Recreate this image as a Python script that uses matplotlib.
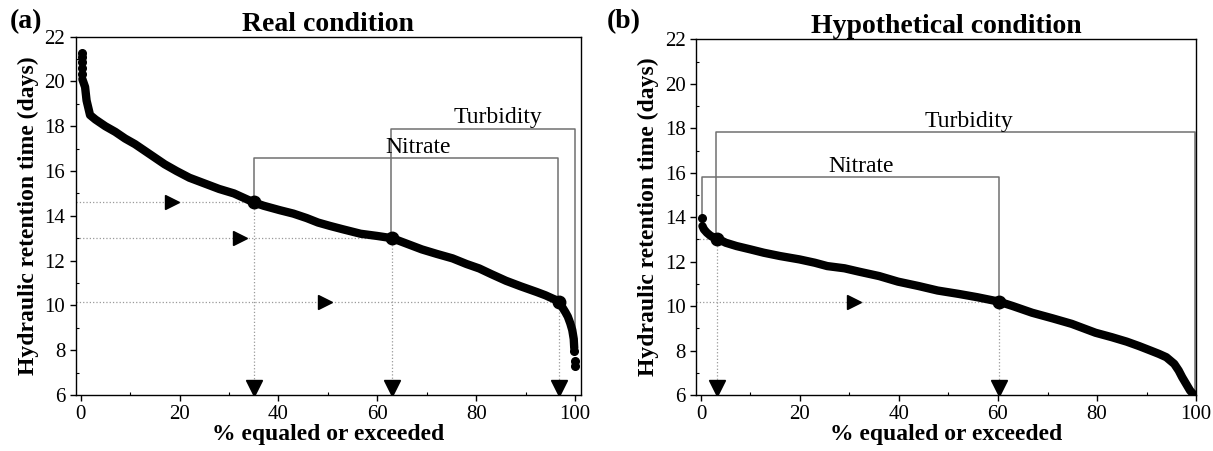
import matplotlib.pyplot as plt
from matplotlib.ticker import MultipleLocator

plt.rcParams['font.family'] = ['Liberation Serif', 'DejaVu Serif']

# ---- data: real condition (panel a) ----
real_pct = [0.35, 0.9, 1.2, 1.9, 3, 5, 7, 9, 11, 13, 15, 17, 19.4, 22, 25.6, 28, 31, 33,
            35, 37, 40.3, 43, 45.7, 48, 50.4, 53, 56.6, 60, 63, 66, 69, 72, 75.2, 78,
            80.6, 83, 86, 89, 92.2, 94, 95.5, 96.6, 97.3, 98, 98.5, 99, 99.4, 99.7, 99.8]
real_hrt = [20.1, 19.75, 19.15, 18.5, 18.3, 18.0, 17.75, 17.45, 17.2, 16.9, 16.6, 16.3,
            16.0, 15.7, 15.4, 15.2, 15.0, 14.8, 14.6, 14.45, 14.25, 14.1, 13.9, 13.7,
            13.55, 13.4, 13.2, 13.1, 13.0, 12.75, 12.5, 12.3, 12.1, 11.85, 11.65, 11.4,
            11.1, 10.85, 10.6, 10.45, 10.3, 10.2, 9.95, 9.7, 9.5, 9.2, 8.9, 8.5, 8.1]
real_head_pct = [0.2, 0.2, 0.2, 0.25, 0.3]
real_head_hrt = [21.25, 21.1, 20.85, 20.6, 20.35]
real_tail_pct = [99.85, 99.9, 99.9]
real_tail_hrt = [7.95, 7.5, 7.3]

real_cut_pct = [35, 63, 96.8]
real_cut_hrt = [14.6, 13.0, 10.15]
real_arrow_pct = [18.5, 32.3, 49.5]
real_nitrate = dict(x0=35, x1=96.6, y=16.57, y0=14.65, y1=10.3, tx=68.2, ty=17.03)
real_turbidity = dict(x0=62.8, x1=100.0, y=17.88, y0=13.05, y1=8.9, tx=84.3, ty=18.37)

# ---- data: hypothetical condition (panel b) ----
hyp_pct = [0.3, 0.6, 1.2, 2, 3.2, 5, 7.2, 10, 12.7, 16, 19.9, 23, 25.5, 29, 31.9, 36,
           39.8, 44, 47.8, 52, 55.8, 60.2, 63, 66.9, 71, 74.9, 79.7, 83, 86, 88.5,
           90.8, 92.5, 94, 95.6, 96.5, 97.2, 98, 98.8, 99.6]
hyp_hrt = [13.6, 13.45, 13.3, 13.15, 13.05, 12.85, 12.7, 12.55, 12.4, 12.25, 12.1,
           11.95, 11.8, 11.7, 11.55, 11.35, 11.1, 10.9, 10.7, 10.55, 10.4, 10.2, 10.0,
           9.7, 9.45, 9.2, 8.8, 8.6, 8.4, 8.2, 8.0, 7.85, 7.7, 7.4, 7.1, 6.8, 6.5, 6.2, 6.0]
hyp_head_pct = [0.2]
hyp_head_hrt = [13.95]
hyp_tail_pct = []
hyp_tail_hrt = []

hyp_cut_pct = [3.2, 60.2]
hyp_cut_hrt = [13.0, 10.2]
hyp_arrow_pct = [None, 30.9]
hyp_nitrate = dict(x0=0.2, x1=60.2, y=15.82, y0=14.0, y1=10.3, tx=32.3, ty=16.26)
hyp_turbidity = dict(x0=3.0, x1=99.8, y=17.85, y0=13.1, y1=6.1, tx=54.1, ty=18.29)

BRACKET = '#707070'
DOT = '#999999'


def bracket(ax, b, label):
    ax.plot([b['x0'], b['x0'], b['x1'], b['x1']], [b['y0'], b['y'], b['y'], b['y1']],
            color=BRACKET, lw=1.1, zorder=2)
    ax.text(b['tx'], b['ty'], label, ha='center', va='center', fontsize=17)


def panel(ax, pct, hrt, head_pct, head_hrt, tail_pct, tail_hrt,
          cut_pct, cut_hrt, arrow_pct, nitrate, turbidity, title, tag, tag_x):
    # guide lines and arrows
    for x, y, ax_x in zip(cut_pct, cut_hrt, arrow_pct):
        ax.plot([-1, x], [y, y], color=DOT, lw=0.9, ls=':', zorder=1)
        ax.plot([x, x], [y, 6], color=DOT, lw=0.9, ls=':', zorder=1)
        if ax_x is not None:
            ax.plot(ax_x, y, marker='>', color='black', ms=10, ls='none', zorder=4)
        ax.plot(x, 6.33, marker='v', color='black', ms=12, ls='none', zorder=4)

    bracket(ax, nitrate, 'Nitrate')
    bracket(ax, turbidity, 'Turbidity')

    # duration curve
    ax.plot(pct, hrt, color='black', lw=6, solid_capstyle='round', zorder=3)
    ax.plot(head_pct, head_hrt, 'o', color='black', ms=5.5, zorder=3)
    ax.plot(tail_pct, tail_hrt, 'o', color='black', ms=5.5, zorder=3)
    ax.plot(cut_pct, cut_hrt, 'o', color='black', ms=9, zorder=4)

    ax.set_xlim(-1, 101.1)
    ax.set_ylim(6, 22)
    ax.xaxis.set_major_locator(MultipleLocator(20))
    ax.xaxis.set_minor_locator(MultipleLocator(10))
    ax.yaxis.set_major_locator(MultipleLocator(2))
    ax.yaxis.set_minor_locator(MultipleLocator(1))
    ax.tick_params(which='major', direction='out', length=4, width=1, labelsize=15)
    ax.tick_params(which='minor', direction='in', length=2, width=0.8)
    for s in ax.spines.values():
        s.set_linewidth(1.0)
    ax.set_xlabel('% equaled or exceeded', fontsize=17, fontweight='bold', labelpad=0)
    ax.set_ylabel('Hydraulic retention time (days)', fontsize=17, fontweight='bold',
                  labelpad=4)
    ax.set_title(title, fontsize=20, fontweight='bold', pad=3)
    ax.figure.text(tag_x, 0.952, tag, fontsize=20, fontweight='bold', va='center')


fig = plt.figure(figsize=(12.13, 4.51), dpi=100)
ax1 = fig.add_axes([0.0624, 0.1242, 0.4163, 0.7945])
ax2 = fig.add_axes([0.5738, 0.1242, 0.4122, 0.7885])

panel(ax1, real_pct, real_hrt, real_head_pct, real_head_hrt, real_tail_pct, real_tail_hrt,
      real_cut_pct, real_cut_hrt, real_arrow_pct, real_nitrate, real_turbidity,
      'Real condition', '(a)', 0.008)
panel(ax2, hyp_pct, hyp_hrt, hyp_head_pct, hyp_head_hrt, hyp_tail_pct, hyp_tail_hrt,
      hyp_cut_pct, hyp_cut_hrt, hyp_arrow_pct, hyp_nitrate, hyp_turbidity,
      'Hypothetical condition', '(b)', 0.5)
ax2.set_xlim(-1, 100)

fig.savefig('out.png', dpi=100)
